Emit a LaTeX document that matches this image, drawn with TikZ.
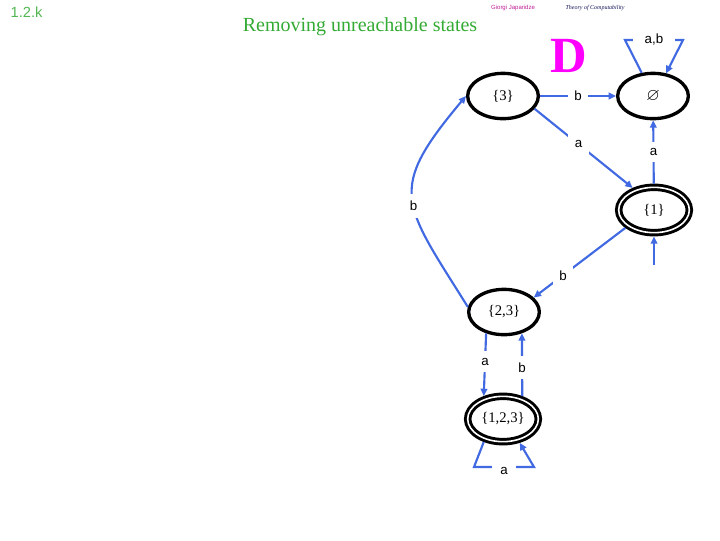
\documentclass[tikz,border=0pt]{standalone}
\usepackage{fontspec}
\usepackage{amssymb}
\setmainfont{Liberation Serif}
\setsansfont{Liberation Sans}
\usetikzlibrary{arrows.meta,shapes.geometric}
\definecolor{titlegreen}{RGB}{51,170,51}
\definecolor{edgeblue}{RGB}{65,105,225}
\definecolor{bigmagenta}{RGB}{255,0,255}
\definecolor{authorpink}{RGB}{190,30,150}
\definecolor{coursenavy}{RGB}{20,20,90}

\begin{document}
\begin{tikzpicture}[line cap=round,line join=round,>={Triangle[length=5.5pt,width=5pt]},x=.75pt,y=.75pt,
    state/.style={ellipse,draw=black,line width=2.5pt,minimum width=53pt,minimum height=34pt,inner sep=1pt,font=\fontsize{11}{11}\selectfont},
    accept/.style={state,line width=2.2pt,double,double distance=1.2pt,outer sep=2.8pt},
    edge/.style={->,draw=edgeblue,line width=1.6pt,line cap=butt,line join=miter},
    lbl/.style={fill=white,inner sep=5pt,font=\sffamily\fontsize{10}{10}\selectfont}]
        \useasboundingbox (0,0) rectangle (720,-540);
        \node [font=\sffamily\fontsize{11}{11}\selectfont,text=titlegreen!85,anchor=west] (num) at (6,-12) {1.2.k};
        \node [font=\fontsize{15}{15}\selectfont,text=titlegreen] (title) at (360,-27) {Removing unreachable states};
        \node [font=\sffamily\fontsize{4.5}{4.5}\selectfont,text=authorpink] (author) at (513,-8) {Giorgi Japaridze};
        \node [font=\itshape\fontsize{4.5}{4.5}\selectfont,text=coursenavy] (course) at (595,-8) {Theory of Computability};
        \node [font=\bfseries\fontsize{38}{38}\selectfont,text=bigmagenta] (letter) at (569,-56) {D};
        \node [state] (s3) at (503,-96) {\{3\}};
        \node [state,font=\fontsize{13}{13}\selectfont] (phi) at (653,-96) {$\varnothing$};
        \node [accept] (s1) at (654,-210) {\{1\}};
        \node [state] (s23) at (504,-312) {\{2,3\}};
        \node [accept] (s123) at (503,-419) {\{1,2,3\}};
        \coordinate (start) at (654,-265);
        \draw [edge] (s3) -- node[lbl] {b} (phi);
        \draw [edge] (s3.-22) -- node[lbl,pos=.45] {a} (s1.134);
        \draw [edge] (s1) -- node[lbl] {a} (phi);
        \draw [edge] (start) -- (s1);
        \draw [edge] (s1.212) -- node[lbl,pos=.68] {b} (s23.26);
        \draw [edge] (s23.172) to[out=122,in=230,looseness=1.5] node[lbl,pos=.45] {b} (s3.180);
        \draw [edge] (s23.230) -- node[lbl,pos=.45] {a} (s123.130);
        \draw [edge] (s123.50) -- node[lbl,pos=.45] {b} (s23.310);
        \draw [edge] (phi.116) -- (625,-40) -- node[lbl,inner xsep=9pt] {a,b} (683,-40) -- (phi.60);
        \draw [edge] (s123.230) -- (474,-467) -- node[lbl,inner xsep=6pt,yshift=-3pt] {a} (534,-467) -- (s123.305);
    \end{tikzpicture}
\end{document}
